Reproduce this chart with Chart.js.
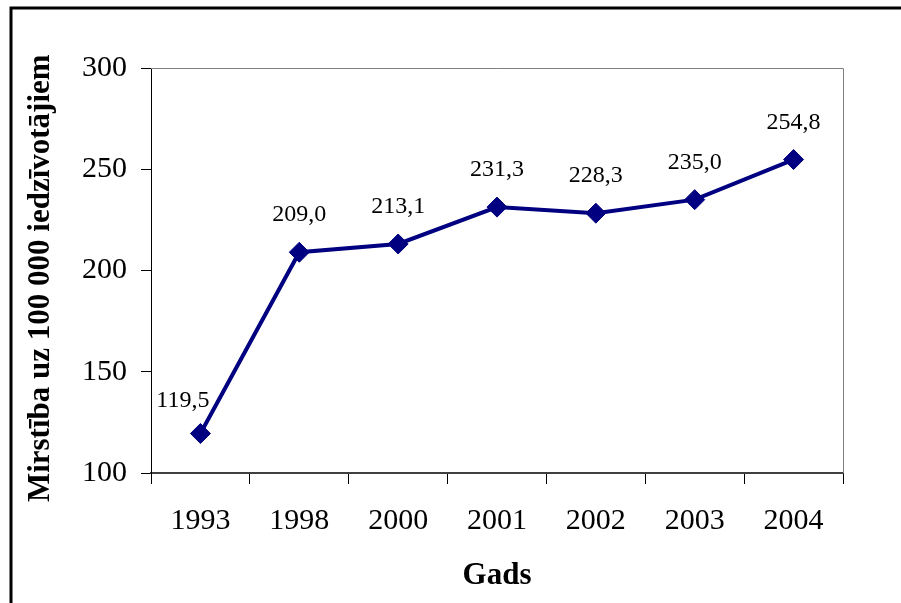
<!DOCTYPE html>
<html>
<head>
<meta charset="utf-8">
<script src="https://cdn.jsdelivr.net/npm/chart.js@4.4.0/dist/chart.umd.min.js"></script>
<style>
  html, body { margin: 0; padding: 0; background: #fff; }
  #wrap { width: 901px; height: 603px; position: relative; }
</style>
</head>
<body>
<div id="wrap"><canvas id="chart" width="901" height="603"></canvas></div>
<script>
// --- data ---
const years = ['1993', '1998', '2000', '2001', '2002', '2003', '2004'];
const mortality = [119.5, 209.0, 213.1, 231.3, 228.3, 235.0, 254.8];
const yTicks = [100, 150, 200, 250, 300];

const SERIF = "'Liberation Serif', 'Times New Roman', serif";
const NAVY = '#000080';

// outer frame + plot box (top/right edges)
const framePlugin = {
    id: 'frame',
    beforeDraw(chart) {
        const ctx = chart.ctx;
        ctx.save();
        ctx.fillStyle = '#fff';
        ctx.fillRect(0, 0, chart.width, chart.height);
        ctx.strokeStyle = '#000';
        ctx.lineWidth = 3;
        ctx.strokeRect(11, 8, 900, 600);
        ctx.restore();
    },
    beforeDatasetsDraw(chart) {
        const a = chart.chartArea;
        const ctx = chart.ctx;
        ctx.save();
        ctx.strokeStyle = '#808080';
        ctx.lineWidth = 1;
        ctx.beginPath();
        ctx.moveTo(a.left, a.top + 0.5);
        ctx.lineTo(a.right + 0.5, a.top + 0.5);
        ctx.lineTo(a.right + 0.5, a.bottom);
        ctx.stroke();
        ctx.restore();
    }
};

// value labels above each point (comma decimal)
const valueLabels = {
    id: 'valueLabels',
    afterDatasetsDraw(chart) {
        const ctx = chart.ctx;
        const meta = chart.getDatasetMeta(0);
        ctx.save();
        ctx.font = '24px ' + SERIF;
        ctx.fillStyle = '#000';
        ctx.textBaseline = 'alphabetic';
        meta.data.forEach((pt, i) => {
            const txt = mortality[i].toFixed(1).replace('.', ',');
            if (i === 0) {
                // first label sits up-left so it clears the steep segment
                ctx.textAlign = 'right';
                ctx.fillText(txt, pt.x + 9, pt.y - 27);
            } else {
                ctx.textAlign = 'center';
                ctx.fillText(txt, pt.x, pt.y - 31);
            }
        });
        ctx.restore();
    }
};

new Chart(document.getElementById('chart'), {
    type: 'line',
    data: {
        labels: years,
        datasets: [{
            data: mortality,
            borderColor: NAVY,
            borderWidth: 4,
            backgroundColor: NAVY,
            pointStyle: 'rectRot',
            pointRadius: 10,
            pointBorderWidth: 1,
            pointBorderColor: NAVY,
            pointBackgroundColor: NAVY,
            tension: 0
        }]
    },
    options: {
        responsive: false,
        animation: false,
        layout: { padding: { top: 68, right: 58, left: 0, bottom: 0 } },
        plugins: {
            legend: { display: false },
            tooltip: { enabled: false }
        },
        scales: {
            x: {
                offset: true,
                grid: {
                    offset: true,
                    drawOnChartArea: false,
                    drawTicks: true,
                    tickLength: 11,
                    tickColor: '#000',
                    tickWidth: 1
                },
                border: { display: true, color: '#404040', width: 2 },
                ticks: {
                    color: '#000',
                    padding: 19,
                    maxRotation: 0,
                    font: { family: SERIF, size: 30 }
                },
                title: {
                    display: true,
                    text: 'Gads',
                    color: '#000',
                    padding: { top: 0, bottom: 8 },
                    font: { family: SERIF, size: 31, weight: 'bold' }
                },
                afterFit(scale) { scale.height = 130; }
            },
            y: {
                min: 100,
                max: 300,
                afterBuildTicks(scale) { scale.ticks = yTicks.map(v => ({ value: v })); },
                grid: {
                    drawOnChartArea: false,
                    drawTicks: true,
                    tickLength: 10,
                    tickColor: '#000',
                    tickWidth: 1
                },
                border: { display: true, color: '#000', width: 1 },
                ticks: {
                    color: '#000',
                    padding: 14,
                    font: { family: SERIF, size: 30 }
                },
                title: {
                    display: true,
                    text: 'Mirstība uz 100 000 iedzīvotājiem\u00a0\u00a0',
                    color: '#000',
                    padding: { top: 22, bottom: 0 },
                    font: { family: SERIF, size: 31, weight: 'bold' }
                },
                afterFit(scale) { scale.width = 151; }
            }
        }
    },
    plugins: [framePlugin, valueLabels]
});
</script>
</body>
</html>
